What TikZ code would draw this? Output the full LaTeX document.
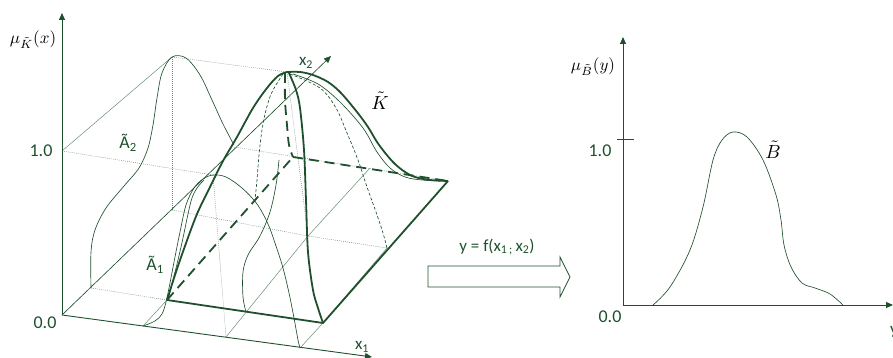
\documentclass[tikz,border=0pt]{standalone}
\usepackage{graphicx}
\usepackage{fontspec}
\newfontfamily\carl{Carlito}
\usetikzlibrary{arrows.meta}
\definecolor{dg}{RGB}{30,80,45}
\definecolor{lg}{RGB}{105,140,115}
\begin{document}
\begin{tikzpicture}[x=1pt,y=-1pt,
  axisline/.style={draw=dg, line width=0.9pt, -{Triangle[length=7pt,width=6pt]}},
  tline/.style={draw=dg, line width=0.65pt},
  tdash/.style={tline, dash pattern=on 3pt off 2pt},
  kline/.style={draw=dg, line width=1.8pt, line join=round},
  kdash/.style={kline, dash pattern=on 10pt off 6pt},
  guide/.style={draw=lg, line width=0.5pt},
  dguide/.style={guide, dash pattern=on 0.8pt off 1.2pt},
  lbl/.style={text=dg, inner sep=0pt, font=\carl\fontsize{18}{20}\selectfont},
  sml/.style={text=dg, inner sep=0pt, font=\carl\fontsize{17}{19}\selectfont},
  mth/.style={text=black, inner sep=0pt}
]
\useasboundingbox (0,0) rectangle (893,358);
% ---------- key points, left chart ----------
\coordinate (O) at (62,315);
\coordinate (muTop) at (62,13);
\coordinate (x1End) at (372,357);
\coordinate (x2End) at (331,56);
\coordinate (one) at (62,151);
\coordinate (A2peak) at (172,57);
\coordinate (A2foot) at (172,210);
\coordinate (A1peak) at (213,175);
\coordinate (A1foot) at (226,337);
\coordinate (Kpeak) at (287,72);
\coordinate (Kfoot) at (308,236);
\coordinate (P1) at (167,300);
\coordinate (P2) at (323,323);
\coordinate (P3) at (448,181);
\coordinate (P4) at (293,157);
\coordinate (A2s) at (91,288);
\coordinate (A2e) at (234,147);
\coordinate (A1s) at (143,326);
\coordinate (A1e) at (300,348);
\coordinate (R) at (387,248);
\coordinate (Q) at (370,168);
% ---------- guide lines ----------
\draw[guide] (one) -- (A2peak);
\draw[dguide] (one) -- (A1peak);
\draw[dguide] (A2peak) -- (Kpeak);
\draw[dguide] (A2peak) -- (A2foot);
\draw[dguide] (A1peak) -- (A1foot);
\draw[dguide] (Kpeak) -- (Kfoot);
\draw[dguide] (A2foot) -- (Kfoot) -- (R);
\draw[dguide] (A2e) -- (P3);
\draw[dguide] (A2s) -- (P1);
\draw[guide] (A1s) -- (P1);
\draw[guide] (A1foot) -- (Kfoot) -- (Q);
\draw[guide] (A1e) -- (P2) -- (R);
% ---------- axes ----------
\draw[axisline] (O) -- (muTop);
\draw[axisline] (O) -- (x1End);
\draw[tline, -{Triangle[length=7pt,width=6pt]}] (O) -- (x2End);
% ---------- thin curves ----------
% A2
\draw[tline] plot[smooth, tension=0.55] coordinates {(91,288) (91,252) (95,230) (106,208) (124,186) (139,168) (148,148) (153,125) (157,98) (162,73) (172,57) (186,58) (200,75) (212,100) (223,124) (234,145)};
% A1
\draw[tline] plot[smooth, tension=0.55] coordinates {(143,326) (155,321) (162,314) (166,302) (170,283) (174,262) (180,232) (186,205) (194,188) (203,179) (213,175) (226,177) (242,188) (257,204) (268,224) (276,246) (283,268) (289,293) (294,318) (298,340) (300,348)};
\draw[tline] plot[smooth, tension=0.55] coordinates {(168,300) (173,280) (178,260) (183,238) (188,214) (192,198) (197,188) (204,180)};
% S-shaped section
\draw[tline] plot[smooth, tension=0.55] coordinates {(246,312) (243,297) (243,272) (248,255) (260,236) (270,212) (276,185) (279,160)};
% dashed sections
\draw[tdash] plot[smooth, tension=0.55] coordinates {(283,74) (272,92) (266,110) (262,130) (259,155) (257,180) (255,200)};
\draw[tdash] plot[smooth, tension=0.55] coordinates {(290,74) (320,88) (336,108) (347,133) (358,160) (367,187) (376,212) (383,233) (387,248)};
% thin curve under right thick curve
\draw[tline] plot[smooth, tension=0.55] coordinates {(293,74) (318,84) (340,102) (363,128) (377,152) (390,168) (405,177) (422,180) (440,181)};
% ---------- thick K outline ----------
\draw[kdash] (P1) -- (P4);
\draw[kdash] (P4) -- (P3);
\draw[kdash] plot[smooth, tension=0.55] coordinates {(285,73) (285,100) (287,125) (289,145) (293,157)};
\draw[kline] (P1) -- (P2) -- (P3);
\draw[kline] plot[smooth, tension=0.55] coordinates {(167,300) (176,272) (185,246) (197,214) (210,187) (223,161) (237,137) (253,108) (267,88) (278,76) (287,72)};
\draw[kline] plot[smooth, tension=0.55] coordinates {(287,72) (300,72) (313,75) (328,82) (341,93) (357,112) (368,127) (377,142) (386,154) (395,164) (405,172) (415,177) (430,180) (448,181)};
\draw[kline] plot[smooth, tension=0.55] coordinates {(289,73) (296,90) (300,108) (304,150) (306,200) (308,252) (313,290) (318,308) (323,323)};
% ---------- labels left ----------
\node[mth] (muK) at (33,40) {\scalebox{1.7}{$\mu_{\tilde{K}}(x)$}};
\node[lbl] (oneL) at (41,151) {1.0};
\node[lbl] (zeroL) at (45,323) {0.0};
\node[lbl] (A2L) at (128,143) {Ã\textsubscript{2}};
\node[lbl] (A1L) at (155,265) {Ã\textsubscript{1}};
\node[sml] (x2L) at (306,63) {x\textsubscript{2}};
\node[sml] (x1L) at (362,347) {x\textsubscript{1}};
\node[mth] (KL) at (380,101) {\scalebox{1.9}{$\tilde{K}$}};
% ---------- block arrow ----------
\coordinate (ba1) at (428,266);
\coordinate (ba2) at (560,266);
\coordinate (ba3) at (560,257);
\coordinate (ba4) at (570,277);
\coordinate (ba5) at (560,297);
\coordinate (ba6) at (560,287);
\coordinate (ba7) at (428,287);
\draw[dg, line width=0.8pt, line join=miter] (ba1) -- (ba2) -- (ba3) -- (ba4) -- (ba5) -- (ba6) -- (ba7) -- cycle;
\node[sml] (fL) at (497,247) {y = f(x\textsubscript{1\,;}\,x\textsubscript{2})};
% ---------- right chart ----------
\coordinate (O2) at (623,305);
\coordinate (yTop) at (623,37);
\coordinate (yEnd) at (893,305);
\coordinate (t1) at (617,139);
\coordinate (t2) at (634,139);
\draw[axisline] (O2) -- (yTop);
\draw[axisline] (O2) -- (yEnd);
\draw[tline] (t1) -- (t2);
\draw[tline] plot[smooth, tension=0.55] coordinates {(653,305) (670,287) (690,250) (703,207) (713,160) (722,140) (733,132) (747,137) (763,160) (776,195) (781,220) (784,245) (791,267) (802,283) (815,288) (830,294) (843,305)};
\node[mth] (muB) at (593,67) {\scalebox{1.7}{$\mu_{\tilde{B}}(y)$}};
\node[lbl] (oneR) at (600,151) {1.0};
\node[lbl] (zeroR) at (610,317) {0.0};
\node[mth] (BL) at (773,150) {\scalebox{1.9}{$\tilde{B}$}};
\node[sml] (yL) at (894,332) {y};
\end{tikzpicture}
\end{document}
